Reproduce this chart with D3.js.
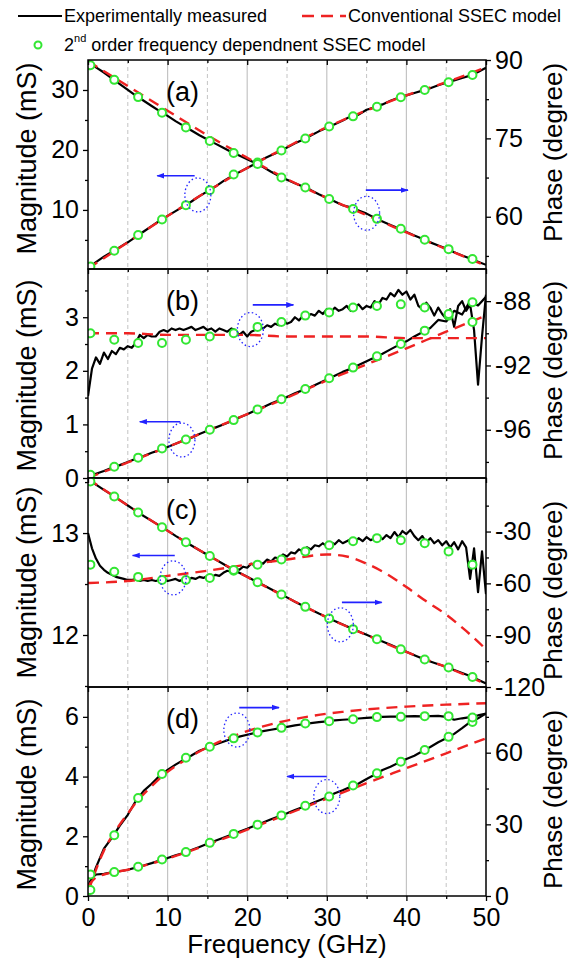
<!DOCTYPE html>
<html>
<head>
<meta charset="utf-8">
<script src="https://cdn.jsdelivr.net/npm/d3@7"></script>
<style>
  body { margin: 0; background: #fff; }
  svg { display: block; font-family: "Liberation Sans", Arial, sans-serif; }
</style>
</head>
<body>
<svg id="chart" width="569" height="958"></svg>
<script>
// ---- frequency grids (GHz) ----
const freq1 = [0,1,2,3,4,5,6,7,8,9,10,11,12,13,14,15,16,17,18,19,20,21,22,23,24,25,26,27,28,29,30,31,32,33,34,35,36,37,38,39,40,41,42,43,44,45,46,47,48,49,50];
const freqHalf = [0,0.5,1,1.5,2,2.5,3,3.5,4,4.5,5,5.5,6,6.5,7,7.5,8,8.5,9,9.5,10,10.5,11,11.5,12,12.5,13,13.5,14,14.5,15,15.5,16,16.5,17,17.5,18,18.5,19,19.5,20,20.5,21,21.5,22,22.5,23,23.5,24,24.5,25,25.5,26,26.5,27,27.5,28,28.5,29,29.5,30,30.5,31,31.5,32,32.5,33,33.5,34,34.5,35,35.5,36,36.5,37,37.5,38,38.5,39,39.5,40,40.5,41,41.5,42,42.5,43,43.5,44,44.5,45,45.5,46,46.5,47,47.5,48,48.5,49,49.5,50];
const freqD = [0,0.5,1,2,3,4,5,6,7,8,9,10,11,12,13,14,15,16,17,18,19,20,21,22,23,24,25,26,27,28,29,30,31,32,33,34,35,36,37,38,39,40,41,42,43,44,45,46,47,48,49,50];
const freqModel = [0,5,10,15,20,25,30,35,40,45,50];
const freqMarkers = [0.3,3.3,6.3,9.3,12.3,15.3,18.3,21.3,24.3,27.3,30.3,33.3,36.3,39.3,42.3,45.3,48.3];

// ---- panel (a) ----
const aMagMeas = [0.2,1.3,2.2,3.0,3.8,4.6,5.5,6.4,7.3,8.2,9.0,9.8,10.6,11.4,12.3,13.1,13.9,14.8,15.6,16.3,17.0,17.7,18.5,19.1,19.7,20.4,21.1,21.7,22.4,23.1,23.7,24.3,24.9,25.6,25.9,26.7,27.1,27.6,28.2,28.7,29.1,29.5,29.9,30.3,30.8,31.2,31.6,32.0,32.4,33.0,33.7];
const aMagConv = [0.2,4.6,9.0,13.1,17.0,20.5,23.8,26.6,29.1,31.3,33.8];
const aMagFit = [0.55,3.2,5.8,8.4,10.8,13.3,15.9,17.9,19.9,21.9,23.9,25.6,27.2,28.8,30.0,31.3,32.5];
const aPhMeas = [89.6,88.6,87.6,86.5,85.4,84.3,83.2,82.2,81.2,80.2,79.3,78.3,77.4,76.5,75.6,74.8,74.0,73.2,72.4,71.7,71.0,70.3,69.5,68.6,67.8,67.1,66.4,65.8,65.1,64.3,63.6,62.9,62.2,61.8,61.2,60.6,59.8,59.1,58.4,57.8,57.1,56.4,55.8,55.1,54.5,53.9,53.2,52.6,52.0,51.4,50.8];
const aPhConv = [89.8,85.0,80.3,75.6,71.3,67.2,63.6,60.3,57.0,53.8,50.6];
const aPhFit = [89.0,86.2,82.9,79.9,77.1,74.5,72.2,70.1,67.5,65.6,63.4,61.5,59.6,57.7,55.6,53.8,51.9];

// ---- panel (b) ----
const bMagMeas = [0.0,0.08,0.13,0.19,0.24,0.30,0.36,0.41,0.47,0.52,0.58,0.64,0.70,0.75,0.82,0.88,0.94,1.00,1.06,1.13,1.19,1.26,1.32,1.39,1.45,1.51,1.58,1.64,1.70,1.77,1.84,1.91,1.98,2.04,2.11,2.18,2.25,2.32,2.40,2.48,2.55,2.64,2.72,2.80,2.95,2.92,3.12,3.05,3.30,3.22,3.38];
const bMagConv = [0.0,0.29,0.58,0.88,1.19,1.50,1.82,2.12,2.42,2.73,3.03];
const bMagFit = [0.06,0.21,0.38,0.55,0.72,0.90,1.08,1.28,1.47,1.66,1.86,2.06,2.27,2.50,2.75,3.03,3.28];
const bPhMeas = [-93.9,-92.2,-91.5,-91.9,-91.2,-91.6,-91.1,-91.3,-90.9,-91.0,
  -90.8,-90.9,-90.6,-90.1,-90.3,-90.1,-90.2,-90.2,-89.9,-89.8,
  -89.9,-89.7,-89.8,-89.7,-89.8,-89.7,-89.6,-89.8,-89.7,-89.6,
  -89.8,-89.7,-89.9,-89.7,-89.8,-89.9,-89.7,-89.8,-90.1,-89.9,
  -90.2,-89.9,-89.8,-89.6,-89.7,-89.5,-89.6,-89.4,-89.5,-89.2,
  -89.4,-89.3,-89.0,-89.2,-88.9,-89.0,-88.8,-88.9,-88.6,-88.8,
  -88.5,-88.7,-88.4,-88.6,-88.5,-88.3,-88.6,-88.4,-88.2,-88.5,
  -88.3,-88.4,-88.0,-88.2,-87.8,-87.9,-87.5,-87.7,-87.3,-87.6,
  -87.4,-87.9,-87.6,-88.3,-88.5,-88.1,-88.4,-88.9,-88.4,-88.8,
  -89.1,-88.5,-89.6,-88.3,-88.0,-88.6,-88.2,-89.8,-93.2,-90.2,
  -87.6];
const bPhConv = [-90.0,-90.0,-90.1,-90.1,-90.1,-90.2,-90.2,-90.2,-90.3,-90.3,-90.3];
const bPhFit = [-90.0,-90.4,-90.6,-90.6,-90.4,-90.2,-90.0,-89.6,-89.3,-88.9,-88.7,-88.4,-88.3,-88.2,-88.4,-88.8,-89.3];

// ---- panel (c) ----
const cMagMeas = [13.0,12.85,12.75,12.68,12.64,12.61,12.59,12.57,12.56,12.55,
  12.54,12.54,12.55,12.53,12.54,12.53,12.54,12.53,12.54,12.55,
  12.53,12.54,12.55,12.53,12.55,12.54,12.56,12.55,12.57,12.56,
  12.58,12.57,12.59,12.58,12.61,12.63,12.62,12.65,12.64,12.67,
  12.66,12.70,12.68,12.71,12.70,12.74,12.72,12.76,12.75,12.79,
  12.77,12.81,12.80,12.84,12.82,12.86,12.84,12.88,12.87,12.90,
  12.87,12.91,12.89,12.93,12.90,12.92,12.94,12.91,12.95,12.92,
  12.96,12.93,12.95,12.97,12.94,12.98,12.95,13.01,12.96,13.02,
  12.99,13.03,12.97,12.93,12.97,12.91,12.95,12.90,12.93,12.88,
  12.92,12.86,12.91,12.84,12.92,12.86,12.55,12.85,12.42,12.82,
  12.40];
const cConvFreq = [0,5,10,15,20,25,30,32.5,35,37.5,40,42.5,45,47.5,50];
const cMagConv = [12.51,12.53,12.58,12.63,12.69,12.74,12.79,12.77,12.70,12.60,12.47,12.33,12.20,12.04,11.86];
const cMagFit = [12.69,12.62,12.57,12.54,12.54,12.56,12.63,12.69,12.74,12.82,12.88,12.92,12.95,12.93,12.90,12.82,12.69];
const cPhMeas = [0.5,-2.8,-5.9,-8.8,-11.8,-14.9,-18.0,-21.0,-23.8,-26.6,-29.5,-32.5,-35.3,-38.1,-40.8,-43.4,-46.1,-48.8,-51.5,-53.9,-56.2,-58.6,-61.0,-63.4,-65.7,-68.1,-70.6,-72.9,-75.2,-77.5,-79.6,-81.8,-83.8,-85.9,-87.9,-89.8,-91.8,-93.7,-95.6,-97.6,-99.6,-101.6,-103.5,-105.2,-106.8,-108.3,-110.1,-111.9,-113.6,-115.8,-118.0];
const cPhConv = [0.5,-14.9,-29.6,-43.5,-56.3,-68.2,-79.7,-89.9,-99.7,-108.5,-118.3];
const cPhFit = [-1.0,-9.7,-19.0,-27.5,-36.2,-44.2,-52.3,-59.4,-66.4,-73.6,-80.3,-86.5,-92.3,-98.2,-104.1,-108.7,-114.2];

// ---- panel (d) ----
const dMagMeas = [0.33,0.62,0.72,0.74,0.79,0.83,0.88,0.95,1.02,1.10,1.19,1.27,1.36,1.44,1.54,1.64,1.75,1.85,1.95,2.05,2.15,2.25,2.36,2.46,2.57,2.67,2.77,2.88,2.98,3.09,3.20,3.30,3.44,3.54,3.66,3.77,3.92,4.06,4.22,4.33,4.46,4.59,4.70,4.85,4.99,5.15,5.28,5.43,5.62,5.82,5.95,6.11];
const dMagConvFreq = [0,1,2,5,10,15,20,25,30,35,40,45,50];
const dMagConv = [0.33,0.62,0.72,0.88,1.25,1.72,2.22,2.74,3.26,3.78,4.28,4.78,5.28];
const dMagFit = [0.72,0.80,0.98,1.22,1.47,1.78,2.08,2.39,2.70,3.02,3.33,3.70,4.11,4.50,4.89,5.33,5.83];
const dPhMeas = [1.5,7.3,12.0,19.8,24.3,29.5,34.0,39.8,44.0,47.0,50.3,52.8,55.0,57.0,58.8,60.8,62.1,63.4,64.6,65.7,66.7,67.5,68.3,69.0,69.6,70.2,70.8,71.4,71.9,72.4,72.8,73.1,73.5,73.8,74.0,74.3,74.6,74.8,75.0,75.1,75.1,75.2,75.3,75.2,75.3,75.4,75.0,73.8,74.4,74.9,75.6,76.4];
const dPhConvFreq = [0,1,2,3,4,5,6,8,10,12,14,16,18,20,22,24,26,28,30,32,35,40,45,50];
const dPhConv = [1.5,11,19,25,30,34.5,39,46,52,56.5,60.5,63.8,66.6,69.0,71.0,72.7,74.1,75.3,76.3,77.1,78.1,79.3,80.1,80.7];
const dPhFit = [2.5,25.4,41.0,51.1,57.9,62.5,66.0,68.5,70.4,72.2,73.2,74.0,74.9,75.0,75.3,75.3,74.7];

// ---- axes / ticks ----
const xTicks = [0,10,20,30,40,50];
const xMinor = [5,15,25,35,45];
const legendLabels = ["Experimentally measured", "Conventional SSEC model", "order frequency dependnent SSEC model"];

const panels = [
  { label: "(a)",
    mag: { domain: [0.15, 35], major: [10,20,30], minor: [5,15,25] },
    ph: { domain: [50, 90], major: [60,75,90], minor: [52.5,67.5,82.5] },
    magMeas: [freq1, aMagMeas], magConv: [freqModel, aMagConv], magFit: aMagFit,
    phMeas: [freq1, aPhMeas], phConv: [freqModel, aPhConv], phFit: aPhFit,
    shiftL: -6, shiftR: -12 },
  { label: "(b)",
    mag: { domain: [0, 3.9], major: [0,1,2,3], minor: [0.5,1.5,2.5,3.5] },
    ph: { domain: [-99, -86], major: [-96,-92,-88], minor: [-98,-94,-90] },
    magMeas: [freq1, bMagMeas], magConv: [freqModel, bMagConv], magFit: bMagFit,
    phMeas: [freqHalf, bPhMeas], phConv: [freqModel, bPhConv], phFit: bPhFit,
    shiftL: 2, shiftR: -3 },
  { label: "(c)",
    mag: { domain: [11.49, 13.54], major: [12,13], minor: [11.5,12.5,13.5] },
    ph: { domain: [-120, 1], major: [-120,-90,-60,-30], minor: [-105,-75,-45,-15] },
    magMeas: [freqHalf, cMagMeas], magConv: [cConvFreq, cMagConv], magFit: cMagFit,
    phMeas: [freq1, cPhMeas], phConv: [freqModel, cPhConv], phFit: cPhFit,
    shiftL: 0, shiftR: 8 },
  { label: "(d)",
    mag: { domain: [0, 7], major: [0,2,4,6], minor: [1,3,5] },
    ph: { domain: [0, 87.5], major: [0,30,60], minor: [15,45,75] },
    magMeas: [freqD, dMagMeas], magConv: [dMagConvFreq, dMagConv], magFit: dMagFit,
    phMeas: [freqD, dPhMeas], phConv: [dPhConvFreq, dPhConv], phFit: dPhFit,
    shiftL: 3, shiftR: 8 }
];

// blue pointers, in frequency and left-axis units of each panel
const arrows = [
  {p: 0, from: 13.4, to: 8.7, v: 15.7}, {p: 0, from: 34.9, to: 40.2, v: 13.3},
  {p: 1, from: 11.6, to: 6.5, v: 1.05}, {p: 1, from: 20.7, to: 25.8, v: 3.23},
  {p: 2, from: 10.9, to: 5.6, v: 12.78}, {p: 2, from: 31.9, to: 36.9, v: 12.32},
  {p: 3, from: 19.0, to: 24.0, v: 6.31}, {p: 3, from: 30.0, to: 25.0, v: 4.0}
];
const rings = [
  {p: 0, f: 13.8, v: 12.5}, {p: 0, f: 35.0, v: 9.45},
  {p: 1, f: 11.8, v: 0.71}, {p: 1, f: 20.4, v: 2.77},
  {p: 2, f: 10.7, v: 12.56}, {p: 2, f: 31.7, v: 12.10},
  {p: 3, f: 18.7, v: 5.56}, {p: 3, f: 30.0, v: 3.33}
];

const BLACK = "#000", RED = "#ee2222", GREEN = "#33e633", BLUE = "#2222ff", GRID = "#c4c4c4";
const plotLeft = 88, plotRight = 486, firstTop = 60, panelH = 209;

const svg = d3.select("#chart");
const x = d3.scaleLinear().domain([0, 50]).range([plotLeft, plotRight]);

const defs = svg.append("defs");
defs.append("marker")
    .attr("id", "head")
    .attr("viewBox", "0 0 10 10")
    .attr("refX", 9).attr("refY", 5)
    .attr("markerWidth", 5).attr("markerHeight", 5)
    .attr("orient", "auto")
  .append("path")
    .attr("d", "M0,1.5 L10,5 L0,8.5 Z")
    .attr("fill", BLUE);

const fmt = d => String(d);

panels.forEach((pn, i) => {
    const top = firstTop + i * panelH, bottom = top + panelH;
    const yL = d3.scaleLinear().domain(pn.mag.domain).range([bottom, top]);
    const yR = d3.scaleLinear().domain(pn.ph.domain).range([bottom, top]);
    pn.yL = yL;

    const g = svg.append("g");
    defs.append("clipPath").attr("id", "clip" + i)
      .append("rect").attr("x", plotLeft).attr("y", top)
      .attr("width", plotRight - plotLeft).attr("height", panelH);

    // grid
    g.selectAll("line.gs").data(xTicks.slice(1, -1)).join("line")
        .attr("x1", d => x(d)).attr("x2", d => x(d))
        .attr("y1", top).attr("y2", bottom)
        .attr("stroke", GRID).attr("stroke-width", 1.2);
    g.selectAll("line.gd").data(xMinor).join("line")
        .attr("x1", d => x(d)).attr("x2", d => x(d))
        .attr("y1", top).attr("y2", bottom)
        .attr("stroke", GRID).attr("stroke-width", 1)
        .attr("stroke-dasharray", "4,3");

    const plot = g.append("g").attr("clip-path", `url(#clip${i})`);

    const lineOf = (y, curve) => d3.line()
        .x(d => x(d[0])).y(d => y(d[1])).curve(curve);
    const zip = (fs, vs) => fs.map((f, k) => [f, vs[k]]);

    // measured (black)
    [[pn.magMeas, yL], [pn.phMeas, yR]].forEach(([s, y]) => {
        plot.append("path")
            .attr("d", lineOf(y, d3.curveLinear)(zip(s[0], s[1])))
            .attr("fill", "none").attr("stroke", BLACK)
            .attr("stroke-width", 2.2).attr("stroke-linejoin", "round");
    });
    // conventional model (red dashed)
    [[pn.magConv, yL], [pn.phConv, yR]].forEach(([s, y]) => {
        plot.append("path")
            .attr("d", lineOf(y, d3.curveMonotoneX)(zip(s[0], s[1])))
            .attr("fill", "none").attr("stroke", RED)
            .attr("stroke-width", 2.4).attr("stroke-dasharray", "11,7");
    });
    // 2nd order model (green circles)
    [[pn.magFit, yL], [pn.phFit, yR]].forEach(([vs, y]) => {
        plot.append("g").selectAll("circle")
            .data(zip(freqMarkers, vs)).join("circle")
            .attr("cx", d => x(d[0])).attr("cy", d => y(d[1]))
            .attr("r", 4).attr("fill", "#fff")
            .attr("stroke", GREEN).attr("stroke-width", 2);
    });

    // frame
    g.append("rect")
        .attr("x", plotLeft).attr("y", top)
        .attr("width", plotRight - plotLeft).attr("height", panelH)
        .attr("fill", "none").attr("stroke", BLACK).attr("stroke-width", 1.5);

    // left axis
    const la = g.append("g").attr("transform", `translate(${plotLeft},0)`);
    la.call(d3.axisLeft(yL).tickValues(pn.mag.major).tickSize(5).tickPadding(4).tickFormat(fmt));
    la.append("g").call(d3.axisLeft(yL).tickValues(pn.mag.minor).tickSize(3).tickFormat(""));
    // right axis
    const ra = g.append("g").attr("transform", `translate(${plotRight},0)`);
    ra.call(d3.axisRight(yR).tickValues(pn.ph.major).tickSize(5).tickPadding(4).tickFormat(fmt));
    ra.append("g").call(d3.axisRight(yR).tickValues(pn.ph.minor).tickSize(3).tickFormat(""));
    [la, ra].forEach(a => {
        a.selectAll(".domain").remove();
        a.selectAll("line").attr("stroke", BLACK).attr("stroke-width", 1.3);
        a.selectAll("text").attr("font-size", 25).attr("font-family", "Liberation Sans, Arial, sans-serif").attr("fill", BLACK);
    });

    // top ticks (inward)
    const ta = g.append("g").attr("transform", `translate(0,${top})`);
    ta.call(d3.axisTop(x).tickValues(xTicks).tickSize(-5).tickFormat(""));
    ta.append("g").call(d3.axisTop(x).tickValues(xMinor).tickSize(-3).tickFormat(""));
    ta.selectAll(".domain").remove();
    ta.selectAll("line").attr("stroke", BLACK).attr("stroke-width", 1.3);

    // titles
    const mid = (top + bottom) / 2;
    g.append("text")
        .attr("transform", `translate(27,${mid + pn.shiftL}) rotate(-90)`)
        .attr("text-anchor", "middle").attr("dominant-baseline", "central")
        .attr("font-size", 27).text("Magnitude (mS)");
    g.append("text")
        .attr("transform", `translate(553,${mid + pn.shiftR}) rotate(-90)`)
        .attr("text-anchor", "middle").attr("dominant-baseline", "central")
        .attr("font-size", 26).text("Phase (degree)");
    g.append("text")
        .attr("x", 166).attr("y", top + 32)
        .attr("dominant-baseline", "central")
        .attr("font-size", 27).text(pn.label);
});

// bottom frequency axis
const lastBottom = firstTop + panels.length * panelH;
const ba = svg.append("g").attr("transform", `translate(0,${lastBottom})`);
ba.call(d3.axisBottom(x).tickValues(xTicks).tickSize(5).tickPadding(7).tickFormat(fmt));
ba.append("g").call(d3.axisBottom(x).tickValues(xMinor).tickSize(3).tickFormat(""));
ba.selectAll(".domain").remove();
ba.selectAll("line").attr("stroke", BLACK).attr("stroke-width", 1.3);
ba.selectAll("text").attr("font-size", 25).attr("font-family", "Liberation Sans, Arial, sans-serif").attr("fill", BLACK);
svg.append("text")
    .attr("x", (plotLeft + plotRight) / 2).attr("y", 953)
    .attr("text-anchor", "middle").attr("font-size", 26)
    .text("Frequency (GHz)");

// blue annotations
const ann = svg.append("g");
ann.selectAll("line").data(arrows).join("line")
    .attr("x1", d => x(d.from)).attr("x2", d => x(d.to))
    .attr("y1", d => panels[d.p].yL(d.v)).attr("y2", d => panels[d.p].yL(d.v))
    .attr("stroke", BLUE).attr("stroke-width", 1.6)
    .attr("marker-end", "url(#head)");
ann.selectAll("ellipse").data(rings).join("ellipse")
    .attr("cx", d => x(d.f)).attr("cy", d => panels[d.p].yL(d.v))
    .attr("rx", 13).attr("ry", 17)
    .attr("fill", "none").attr("stroke", BLUE).attr("stroke-width", 1.3)
    .attr("stroke-dasharray", "1.5,2.5");

// legend
const lg = svg.append("g").attr("font-size", 18);
lg.append("line").attr("x1", 18).attr("x2", 62).attr("y1", 16).attr("y2", 16)
    .attr("stroke", BLACK).attr("stroke-width", 2.2);
lg.append("text").attr("x", 64).attr("y", 16).attr("dominant-baseline", "central").text(legendLabels[0]);
lg.append("line").attr("x1", 302).attr("x2", 346).attr("y1", 16).attr("y2", 16)
    .attr("stroke", RED).attr("stroke-width", 2.4).attr("stroke-dasharray", "12,7");
lg.append("text").attr("x", 348).attr("y", 16).attr("dominant-baseline", "central").text(legendLabels[1]);
lg.append("circle").attr("cx", 38).attr("cy", 45).attr("r", 3.5)
    .attr("fill", "#fff").attr("stroke", GREEN).attr("stroke-width", 2);
const t2 = lg.append("text").attr("x", 64).attr("y", 45).attr("dominant-baseline", "central");
t2.append("tspan").text("2");
t2.append("tspan").attr("font-size", 11).attr("dy", -7).text("nd");
t2.append("tspan").attr("dy", 7).text(" " + legendLabels[2]);
</script>
</body>
</html>
